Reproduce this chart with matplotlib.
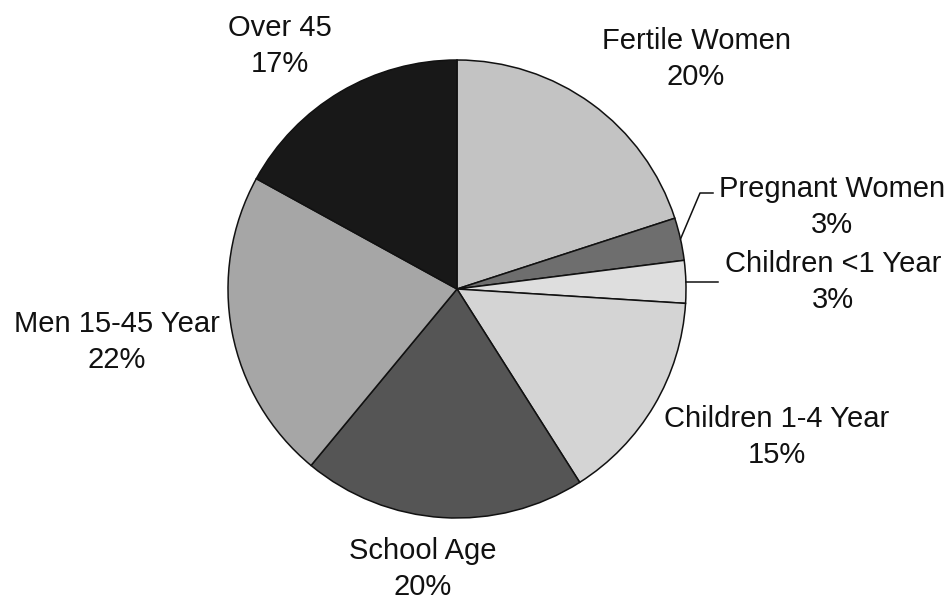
import numpy as np
import matplotlib
matplotlib.use("Agg")
import matplotlib.pyplot as plt

categories = ["Fertile Women", "Pregnant Women", "Children <1 Year",
              "Children 1-4 Year", "School Age", "Men 15-45 Year", "Over 45"]
values = [20, 3, 3, 15, 20, 22, 17]
colors = ["#c3c3c3", "#6e6e6e", "#dedede", "#d4d4d4", "#555555", "#a6a6a6", "#181818"]

W, H = 951, 607
fig = plt.figure(figsize=(W / 100, H / 100), dpi=100)
ax = fig.add_axes([0, 0, 1, 1])
ax.set_xlim(0, W)
ax.set_ylim(0, H)
ax.set_aspect("equal")
ax.axis("off")

cx, cy, R = 457, H - 289, 229
wedges, _ = ax.pie(values, colors=colors, startangle=90, counterclock=False,
                   center=(cx, cy), radius=R, frame=True,
                   wedgeprops=dict(edgecolor="#111111", linewidth=1.1))
ax.set_xlim(0, W)
ax.set_ylim(0, H)
ax.axis("off")

# label positions (pixel coordinates, top-origin) for each category
label_pos = {
    "Fertile Women": (696, 41),
    "Pregnant Women": (832, 189),
    "Children <1 Year": (833, 264),
    "Children 1-4 Year": (777, 419),
    "School Age": (423, 551),
    "Men 15-45 Year": (117, 324),
    "Over 45": (280, 28),
}
fs = 21
font = ["Liberation Sans", "DejaVu Sans"]
for cat, v in zip(categories, values):
    x, y = label_pos[cat]
    ax.text(x, H - y, cat, ha="center", va="center", fontsize=fs, family=font, color="#111111")
    ax.text(x, H - y - 36, f"{v}%", ha="center", va="center", fontsize=fs, family=font, color="#111111")

# leader lines for the two thin slices
cum = np.cumsum([0] + values)
def edge_point(i):
    mid = 90 - 360 * (cum[i] + values[i] / 2) / 100
    a = np.deg2rad(mid)
    return cx + R * np.cos(a), cy + R * np.sin(a)

x0, y0 = edge_point(1)
ax.plot([x0, 700, 713], [y0, H - 193, H - 193], color="#111111", lw=1.1)
x0, y0 = edge_point(2)
ax.plot([x0, 718], [y0, y0], color="#111111", lw=1.1)

fig.savefig("out.png", dpi=100, facecolor="white")
